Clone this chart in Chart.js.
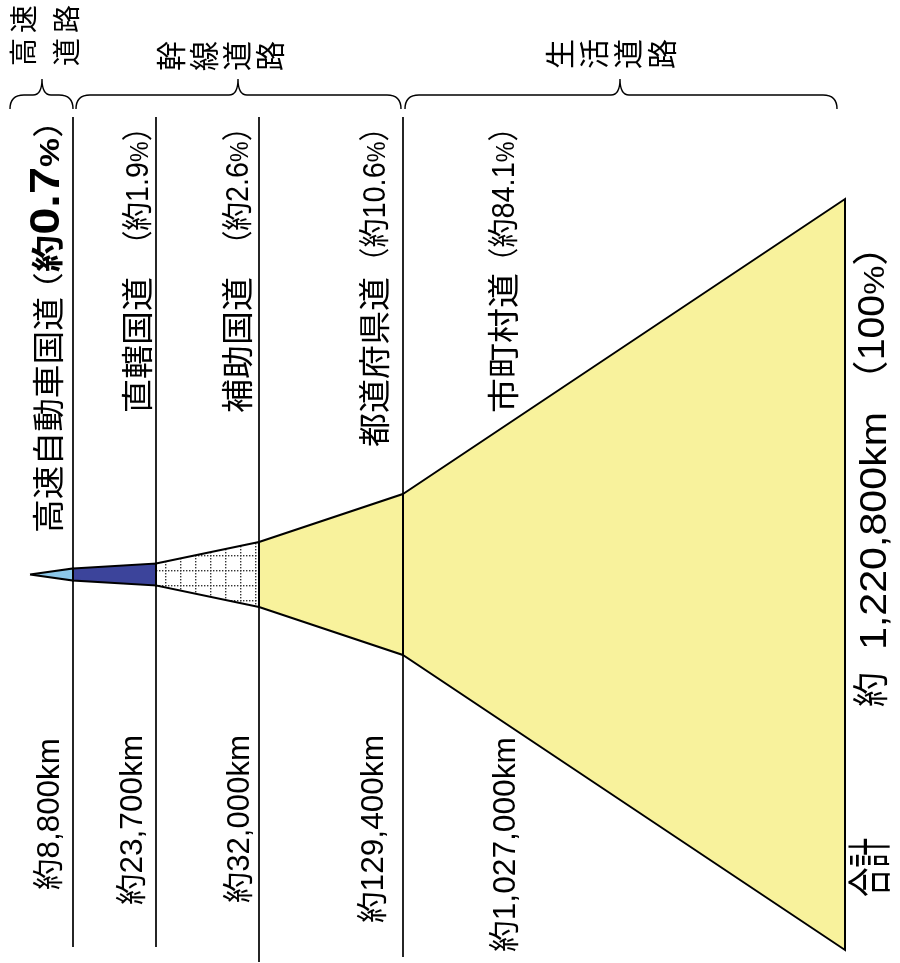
<!DOCTYPE html>
<html><head><meta charset="utf-8">
<script src="https://cdn.jsdelivr.net/npm/chart.js@4.4.1/dist/chart.umd.min.js"></script>
<style>html,body{margin:0;padding:0;background:#fff;}canvas{display:block;}</style>
</head><body>
<canvas id="c" width="900" height="963"></canvas>
<script>
// ---- data ----
const roadTypes = ['高速自動車国道', '直轄国道', '補助国道', '都道府県道', '市町村道'];
const shareLabels = ['約0.7%', '約1.9%', '約2.6%', '約10.6%', '約84.1%'];
const lengthLabels = ['約8,800km', '約23,700km', '約32,000km', '約129,400km', '約1,027,000km'];
const lengthsKm = [8800, 23700, 32000, 129400, 1027000];
const totalLabel = ['合計', '約', '1,220,800km', '100%'];
const groupLabels = ['高速道路', '幹線道路', '生活道路'];
// schematic funnel: boundary positions along the funnel and its half-width there
const funnelPos = [0, 43, 126, 229, 373, 815];
const funnelHalfWidth = [0, 6, 11, 32.5, 80.5, 375.5];
// guide lines (top / bottom value of each vertical separator)
const guideTop = 457.5;
const guideBottom = [-372.5, -372.5, -387.5, -382.5];

// ---- helpers ----
const canvas = document.getElementById('c');
const ctx0 = canvas.getContext('2d');
function gridPattern() {
  const p = document.createElement('canvas'); p.width = 15; p.height = 15;
  const g = p.getContext('2d');
  g.fillStyle = '#fff'; g.fillRect(0, 0, 15, 15);
  g.fillStyle = '#333';
  for (let i = 0; i < 15; i += 3) { g.fillRect(i, 0, 1.4, 1.4); g.fillRect(0, i, 1.4, 1.4); }
  return ctx0.createPattern(p, 'repeat');
}
const fills = ['#8CC8EA', '#3C449B', gridPattern(), '#F8F29C', '#F8F29C'];

const datasets = [];
roadTypes.forEach((name, i) => {
  const a = funnelPos[i], b = funnelPos[i + 1], ha = funnelHalfWidth[i], hb = funnelHalfWidth[i + 1];
  datasets.push({
    label: name,
    data: [{x: a, y: ha}, {x: b, y: hb}, {x: b, y: -hb}, {x: a, y: -ha}, {x: a, y: ha}],
    showLine: true, fill: 'shape', backgroundColor: fills[i],
    borderColor: '#000', borderWidth: 2, pointRadius: 0, tension: 0, borderJoinStyle: 'miter'
  });
});
guideBottom.forEach((gb, i) => {
  datasets.push({
    label: 'guide' + i,
    data: [{x: funnelPos[i + 1], y: guideTop}, {x: funnelPos[i + 1], y: gb}],
    showLine: true, fill: false, borderColor: '#000', borderWidth: 1.7, pointRadius: 0
  });
});

const LAT = '"Liberation Sans", "Noto Sans CJK JP"';
function f(size, bold) { return (bold ? 'bold ' : '') + size + 'px ' + LAT; }
// full-width brackets drawn in a narrower slot
function openP(size) { return {t: '（', font: f(size), adv: 0.5 * size, dx: -0.5 * size}; }
function closeP(size) { return {t: '）', font: f(size), adv: 0.5 * size, dx: 0}; }
function vtext(ctx, runs, cx, yBottom, yTop, size) {
  ctx.save();
  let total = 0;
  const ws = runs.map(r => {
    ctx.font = r.font;
    const w = r.adv !== undefined ? r.adv : ctx.measureText(r.t).width;
    total += w; return w;
  });
  ctx.translate(cx + size * 0.36, yBottom);
  ctx.rotate(-Math.PI / 2);
  ctx.scale((yBottom - yTop) / total, 1);
  ctx.textBaseline = 'alphabetic'; ctx.textAlign = 'left'; ctx.fillStyle = '#000';
  let x = 0;
  runs.forEach((r, i) => { ctx.font = r.font; ctx.fillText(r.t, x + (r.dx || 0), 0); x += ws[i]; });
  ctx.restore();
}
function rchar(ctx, ch, cx, cy, size) {
  ctx.save();
  ctx.translate(cx, cy); ctx.rotate(-Math.PI / 2);
  ctx.font = size + 'px "Noto Sans CJK JP"';
  ctx.textAlign = 'center'; ctx.textBaseline = 'middle'; ctx.fillStyle = '#000';
  ctx.fillText(ch, 0, 0);
  ctx.restore();
}
function brace(ctx, x1, x2, xm) {
  const yl = 95, ye = 109, yt = 79, re = 14, rt = 9;
  ctx.beginPath();
  ctx.moveTo(x1, ye);
  ctx.quadraticCurveTo(x1, yl, x1 + re, yl);
  ctx.lineTo(xm - rt, yl);
  ctx.quadraticCurveTo(xm, yl, xm, yt);
  ctx.quadraticCurveTo(xm, yl, xm + rt, yl);
  ctx.lineTo(x2 - re, yl);
  ctx.quadraticCurveTo(x2, yl, x2, ye);
  ctx.stroke();
}

const labelPlugin = {
  id: 'labels',
  afterDraw(chart) {
    const ctx = chart.ctx;
    // braces
    ctx.save(); ctx.strokeStyle = '#000'; ctx.lineWidth = 1.4;
    brace(ctx, 10, 73, 42); brace(ctx, 76, 401, 238); brace(ctx, 405, 837, 620);
    ctx.restore();
    // group labels
    const g0 = groupLabels[0];
    rchar(ctx, g0[0], 23, 52, 28); rchar(ctx, g0[1], 23, 19, 28);
    rchar(ctx, g0[2], 66, 52, 28); rchar(ctx, g0[3], 66, 19, 28);
    [...groupLabels[1]].forEach((c, k) => rchar(ctx, c, 171 + k * 33, 56, 30));
    [...groupLabels[2]].forEach((c, k) => rchar(ctx, c, 560 + k * 34, 54, 30));
    // road type labels
    const nameX = [48, 137, 237, 374, 503];
    const nameExt = [[533, 297], [413, 277], [413, 277], [447, 277], [413, 273]];
    const parExt = [[290, 120], [245, 127], [245, 127], [262, 127], [262, 127]];
    roadTypes.forEach((n, i) => {
      vtext(ctx, [{t: n, font: f(32)}], nameX[i], nameExt[i][0], nameExt[i][1], 32);
      const num = shareLabels[i].replace('約', '').replace('%', '');
      const runs = [openP(31), {t: '約', font: f(i === 0 ? 32 : 31, i === 0)}];
      runs.push(i === 0 ? {t: num, font: f(42, true)} : {t: num, font: f(31)});
      runs.push({t: '%', font: f(i === 0 ? 28 : 25, i === 0)});
      runs.push(closeP(31));
      vtext(ctx, runs, nameX[i], parExt[i][0], parExt[i][1], 31);
    });
    // length labels
    const lenX = [48, 131, 238, 372, 504];
    const lenExt = [[890, 738], [905, 735], [903, 735], [923, 735], [952, 737]];
    lengthLabels.forEach((t, i) => vtext(ctx, [{t, font: f(31)}], lenX[i], lenExt[i][0], lenExt[i][1], 31));
    // total
    vtext(ctx, [{t: totalLabel[0], font: f(44)}], 870, 897, 838, 44);
    vtext(ctx, [{t: totalLabel[1], font: f(36)}], 871, 707, 672, 36);
    vtext(ctx, [{t: totalLabel[2], font: f(36)}], 873, 650, 412, 36);
    vtext(ctx, [openP(36), {t: totalLabel[3].replace('%', ''), font: f(36)}, {t: '%', font: f(30)}, closeP(36)], 871, 380, 246, 36);
  }
};

new Chart(canvas, {
  type: 'scatter',
  data: {datasets},
  options: {
    responsive: false, animation: false, devicePixelRatio: 1,
    layout: {padding: 0},
    scales: {
      x: {type: 'linear', min: -30, max: 870, display: false},
      y: {type: 'linear', min: -388.5, max: 574.5, display: false}
    },
    plugins: {legend: {display: false}, tooltip: {enabled: false}},
    elements: {point: {radius: 0}}
  },
  plugins: [labelPlugin]
});
</script>
</body></html>
